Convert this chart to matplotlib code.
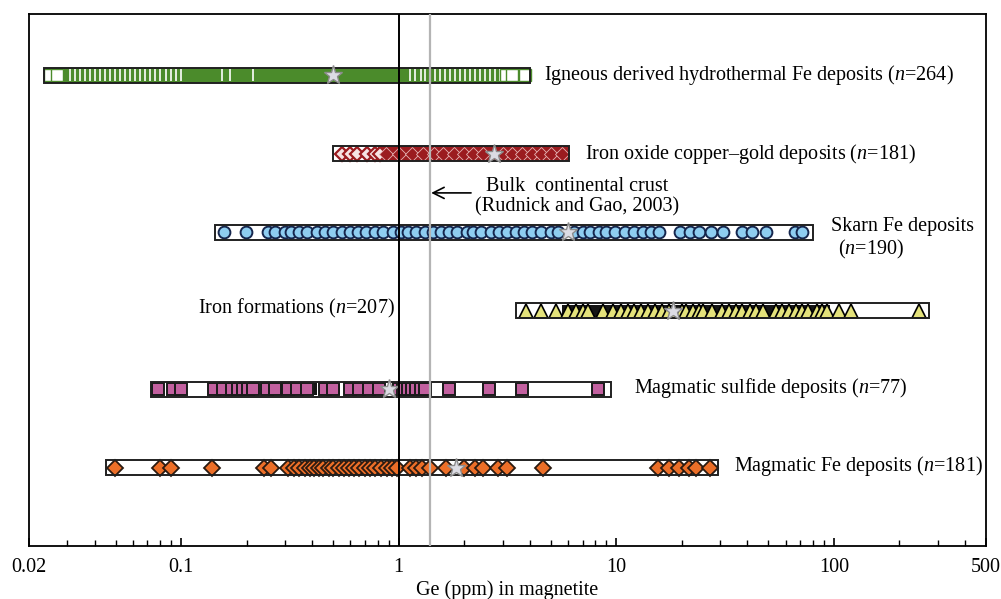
import matplotlib.pyplot as plt
from matplotlib.ticker import FixedLocator, NullFormatter

plt.rcParams['font.family'] = ['Liberation Serif', 'DejaVu Serif']
plt.rcParams['mathtext.fontset'] = 'custom'
plt.rcParams['mathtext.rm'] = 'Liberation Serif'
plt.rcParams['mathtext.it'] = 'Liberation Serif:italic'

# Ge (ppm) ranges, medians and individual analyses per deposit type
rows = [6, 5, 4, 3, 2, 1]
ranges = [(0.0234, 4.0), (0.50, 6.07), (0.143, 80.2), (3.46, 273), (0.073, 9.46), (0.045, 29.3)]
medians = [0.50, 2.74, 6.0, 18.2, 0.90, 1.83]

igneous = [0.0249, 0.0263, 0.0286, 0.0308, 0.0324, 0.0342, 0.0361, 0.0381, 0.0402, 0.0424,
           0.0447, 0.0471, 0.0497, 0.0524, 0.0553, 0.0583, 0.0615, 0.0649, 0.0685, 0.0722,
           0.0762, 0.0803, 0.0848, 0.0894, 0.0943, 0.0994, 0.154, 0.167, 0.214,
           1.13, 1.19, 1.26, 1.32, 1.40, 1.47, 1.55, 1.64, 1.73, 1.82, 1.92, 2.02, 2.13,
           2.25, 2.37, 2.50, 2.64, 2.78, 2.93]
igneous_open = [0.025, 0.027, 3.1, 3.3, 3.8]
iocg_sparse = [0.548, 0.598, 0.642, 0.717, 0.777, 0.817]
iocg_dense = [0.87, 1.0, 1.15, 1.3, 1.45, 1.6, 1.8, 2.0, 2.2, 2.45, 3.0, 3.3, 3.7, 4.1,
              4.5, 5.0, 5.6]
iocg_band = (0.80, 6.07)
skarn = [0.157, 0.199, 0.25, 0.27, 0.30, 0.32, 0.35, 0.38, 0.42, 0.46, 0.50, 0.55, 0.60,
         0.65, 0.71, 0.78, 0.85, 0.94, 1.02, 1.1, 1.2, 1.32, 1.43, 1.56, 1.7, 1.85, 2.06,
         2.2, 2.4, 2.65, 2.9, 3.15, 3.45, 3.75, 4.1, 4.5, 5.0, 5.4, 6.4, 7.0, 7.6, 8.3,
         9.0, 9.9, 11, 12, 13.3, 14.4, 15.7, 19.6, 21.7, 24, 27.2, 31, 38, 42, 49, 66, 71]
iron_form = [3.83, 4.5, 5.3, 6.0, 6.5, 7.0, 7.4, 8.7, 9.7, 10.5, 11.3, 12.1, 13, 14, 15,
             16.2, 17.5, 20, 21, 22.5, 24, 25, 27.5, 30.5, 33, 35.5, 38, 41, 44, 47, 54,
             58, 62, 67, 71, 76, 84, 88, 93, 106, 120, 245]
iron_form_band = (5.6, 96)
sulfide = [0.078, 0.092, 0.10, 0.141, 0.156, 0.171, 0.182, 0.192, 0.203, 0.214, 0.247,
           0.27, 0.31, 0.34, 0.38, 0.46, 0.50, 0.60, 0.66, 0.73, 0.81, 1.0, 1.05, 1.1,
           1.15, 1.2, 1.26, 1.32, 1.7, 2.6, 3.7, 8.2]
sulfide_bands = [(0.207, 0.225), (0.40, 0.42), (0.52, 0.54), (0.95, 1.38)]
magmatic_fe = [0.0495, 0.080, 0.090, 0.139, 0.24, 0.26, 0.31, 0.33, 0.35, 0.37, 0.39,
               0.41, 0.43, 0.45, 0.48, 0.50, 0.53, 0.56, 0.59, 0.62, 0.66, 0.70, 0.74,
               0.78, 0.83, 0.88, 0.93, 0.98, 1.13, 1.2, 1.28, 1.39, 1.65, 2.0, 2.25,
               2.45, 2.85, 3.15, 4.6, 15.6, 17.5, 19.4, 21.5, 23.3, 27]

labels = ['Igneous derived hydrothermal Fe deposits ($n$=264)',
          'Iron oxide copper–gold deposits ($n$=181)',
          'Skarn Fe deposits', 'Iron formations ($n$=207)',
          'Magmatic sulfide deposits ($n$=77)', 'Magmatic Fe deposits ($n$=181)']
crust_ge = 1.4

fig = plt.figure(figsize=(10.01, 5.99), dpi=100)
ax = fig.add_axes([29 / 1001, 53 / 599, 957 / 1001, 532 / 599])
ax.set_xscale('log')
ax.set_xlim(0.02, 500)
ax.set_ylim(0, 6.78)

h = 0.19
green = '#4b8b2b'
red = '#9b1b1f'

# filled background where the analyses are too dense to separate
ax.barh(rows[0], ranges[0][1] - ranges[0][0], left=ranges[0][0], height=h,
        color=green, zorder=1)
ax.barh(rows[1], iocg_band[1] - iocg_band[0], left=iocg_band[0], height=h,
        color=red, zorder=1)
ax.barh(rows[3], iron_form_band[1] - iron_form_band[0], left=iron_form_band[0],
        height=h * 0.8, color='#151515', zorder=1)
for lo, hi in sulfide_bands:
    ax.barh(rows[4], hi - lo, left=lo, height=h * 0.85, color='#151515', zorder=1)

ax.plot(igneous, [rows[0]] * len(igneous), ls='none', marker='|', ms=8, mew=1.2,
        color='white', zorder=2)
ax.plot(igneous_open, [rows[0]] * len(igneous_open), ls='none', marker='s', ms=8,
        mfc='white', mec=green, mew=1, zorder=2)
ax.plot(iocg_sparse, [rows[1]] * len(iocg_sparse), ls='none', marker='D', ms=7,
        mfc='#f6e4e4', mec=red, mew=1.6, zorder=2)
ax.plot(iocg_dense, [rows[1]] * len(iocg_dense), ls='none', marker='D', ms=7,
        mfc=red, mec='#e6b4b4', mew=0.6, zorder=2)
ax.plot(skarn, [rows[2]] * len(skarn), ls='none', marker='o', ms=8.5,
        mfc='#8ecdf0', mec='#15264d', mew=1.4, zorder=2)
ax.plot(iron_form, [rows[3]] * len(iron_form), ls='none', marker='^', ms=10.5,
        mfc='#e4e27a', mec='black', mew=1.2, zorder=2)
ax.plot(sulfide, [rows[4]] * len(sulfide), ls='none', marker='s', ms=9,
        mfc='#c2609f', mec='#1a1a1a', mew=1.4, zorder=2)
ax.plot(magmatic_fe, [rows[5]] * len(magmatic_fe), ls='none', marker='D', ms=8,
        mfc='#ec6f28', mec='#2a1a10', mew=1.3, zorder=2)

# outline boxes spanning each range
for y, (lo, hi) in zip(rows, ranges):
    ax.barh(y, hi - lo, left=lo, height=h, fill=False, edgecolor='#202020',
            linewidth=1.4, zorder=3)

ax.plot(medians, rows, ls='none', marker='*', ms=14, mfc='#dcdce4', mec='#8c8c8c',
        mew=1, zorder=4)

ax.axvline(1, color='black', lw=1.4, zorder=5)
ax.axvline(crust_ge, color='#b4b4b4', lw=1.6, zorder=5)

fs = 14.5
ax.text(4.64, 6.0, labels[0], fontsize=fs, va='center')
ax.text(7.15, 5.0, labels[1], fontsize=fs, va='center')
ax.text(97, 4.07, labels[2], fontsize=fs, va='center')
ax.text(104, 3.78, '($n$=190)', fontsize=fs, va='center')
ax.text(0.96, 3.03, labels[3], fontsize=fs, va='center', ha='right')
ax.text(12.1, 2.01, labels[4], fontsize=fs, va='center')
ax.text(34.8, 1.02, labels[5], fontsize=fs, va='center')

ax.annotate('', xy=(1.41, 4.5), xytext=(2.15, 4.5),
            arrowprops=dict(arrowstyle='->', color='black', lw=1.2,
                            mutation_scale=20, shrinkA=0, shrinkB=0))
ax.text(6.6, 4.58, 'Bulk  continental crust', fontsize=fs, ha='center', va='center')
ax.text(6.6, 4.32, '(Rudnick and Gao, 2003)', fontsize=fs, ha='center', va='center')

ax.set_xticks([0.02, 0.1, 1, 10, 100, 500])
ax.set_xticklabels(['0.02', '0.1', '1', '10', '100', '500'])
minors = [m * 10 ** e for e in range(-2, 3) for m in range(2, 10)]
ax.xaxis.set_minor_locator(FixedLocator([v for v in minors if 0.02 < v < 500]))
ax.xaxis.set_minor_formatter(NullFormatter())
ax.tick_params(axis='x', which='major', direction='in', length=6, width=1.2,
               labelsize=fs, pad=9)
ax.tick_params(axis='x', which='minor', direction='in', length=4, width=1)
ax.set_yticks([])
ax.set_xlabel('Ge (ppm) in magnetite', fontsize=fs, labelpad=2)
for s in ax.spines.values():
    s.set_linewidth(1.3)

fig.savefig('out.png', dpi=100)
